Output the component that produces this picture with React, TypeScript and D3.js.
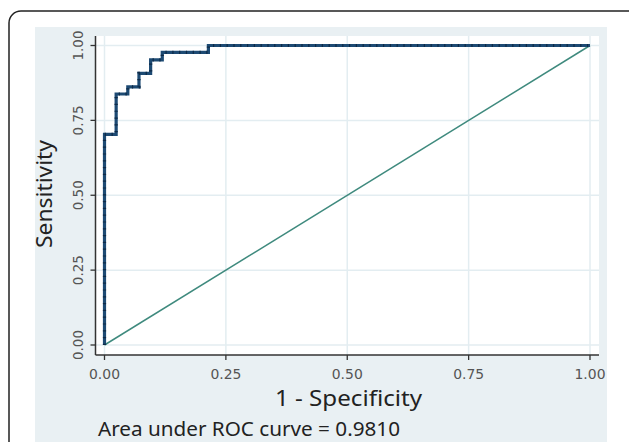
import React from "react";
import * as d3 from "d3";

const fpr = [0, 0, 0.024, 0.024, 0.048, 0.048, 0.071, 0.071, 0.095, 0.095, 0.119, 0.119, 0.214, 0.214, 1];
const tpr = [0, 0.703, 0.703, 0.838, 0.838, 0.862, 0.862, 0.907, 0.907, 0.952, 0.952, 0.977, 0.977, 1, 1];
const refX = [0, 1];
const refY = [0, 1];
const ticks = [0, 0.25, 0.5, 0.75, 1];
const tickLabels = ["0.00", "0.25", "0.50", "0.75", "1.00"];
const xTitle = "1 - Specificity";
const yTitle = "Sensitivity";
const note = "Area under ROC curve = 0.9810";

export default function App() {
  const W = 629, H = 442;
  const x = d3.scaleLinear().domain([0, 1]).range([104.5, 590]);
  const y = d3.scaleLinear().domain([0, 1]).range([345, 45.5]);
  const line = d3.line<[number, number]>().x(d => x(d[0])).y(d => y(d[1]));
  const roc = line(fpr.map((v, i) => [v, tpr[i]] as [number, number])) || "";
  const diag = line(refX.map((v, i) => [v, refY[i]] as [number, number])) || "";
  const plotL = 95.5, plotR = 599, plotT = 36, plotB = 355;
  const font = "'Noto Sans', 'Open Sans', sans-serif";
  const tickFont = "'DejaVu Sans', sans-serif";
  return (
    <svg width={W} height={H} style={{ position: "absolute", left: 0, top: 0 }} fontFamily={font}>
      <rect x={0} y={0} width={W} height={H} fill="#fff" />
      <rect x={9} y={11} width={640} height={460} rx={12} fill="#fff" stroke="#222" strokeWidth={1.5} />
      <rect x={35} y={27} width={572} height={430} fill="#e9f0f3" />
      <rect x={plotL} y={plotT} width={plotR - plotL} height={plotB - plotT} fill="#fff" />
      {ticks.map((t, i) => (
        <g key={"g" + i}>
          <line x1={plotL} x2={plotR} y1={y(t)} y2={y(t)} stroke="#e3edf1" strokeWidth={1.5} />
          <line x1={x(t)} x2={x(t)} y1={plotT} y2={plotB} stroke="#e3edf1" strokeWidth={1.5} />
        </g>
      ))}
      <path d={diag} fill="none" stroke="#3f8a7e" strokeWidth={1.5} />
      <path d={roc} fill="none" stroke="#1d4a73" strokeWidth={3.2} strokeLinejoin="miter" />
      <path d={roc} fill="none" stroke="#0e2a47" strokeWidth={3.2} strokeDasharray="1.2 5.6" />
      <line x1={plotL} x2={plotL} y1={plotT} y2={plotB} stroke="#333" strokeWidth={1.5} />
      <line x1={plotL} x2={plotR} y1={plotB} y2={plotB} stroke="#333" strokeWidth={1.5} />
      {ticks.map((t, i) => (
        <g key={"t" + i}>
          <line x1={plotL - 5} x2={plotL} y1={y(t)} y2={y(t)} stroke="#333" strokeWidth={1.3} />
          <line x1={x(t)} x2={x(t)} y1={plotB} y2={plotB + 5} stroke="#333" strokeWidth={1.3} />
          <text x={x(t)} y={378.5} textAnchor="middle" fontSize={14.5} fill="#555" fontFamily={tickFont} textLength={31} lengthAdjust="spacingAndGlyphs">{tickLabels[i]}</text>
          <text transform={`translate(82.5,${y(t)}) rotate(-90)`} textAnchor="middle" fontSize={14.5} fill="#555" fontFamily={tickFont} textLength={30} lengthAdjust="spacingAndGlyphs">{tickLabels[i]}</text>
        </g>
      ))}
      <text x={348.5} y={406} textAnchor="middle" fontSize={21} fill="#222" textLength={147} lengthAdjust="spacingAndGlyphs">{xTitle}</text>
      <text transform={`translate(52,194) rotate(-90)`} textAnchor="middle" fontSize={21} fill="#222" textLength={108} lengthAdjust="spacingAndGlyphs">{yTitle}</text>
      <text x={98} y={436} fontSize={19} fill="#222" textLength={302} lengthAdjust="spacingAndGlyphs">{note}</text>
    </svg>
  );
}
